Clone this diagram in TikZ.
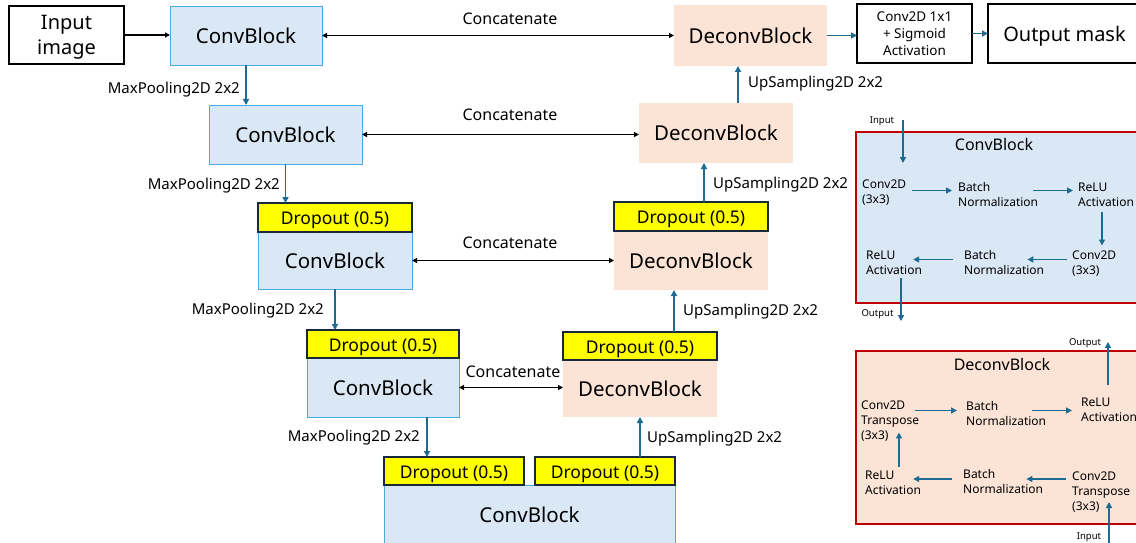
\documentclass[tikz,border=0pt]{standalone}
\usepackage{fontspec}
\setmainfont{Noto Sans}
\usetikzlibrary{arrows.meta}

\definecolor{convfill}{HTML}{DAE8F6}
\definecolor{convedge}{HTML}{4AAADF}
\definecolor{deconvfill}{HTML}{FBE3D6}
\definecolor{flow}{HTML}{1D6A92}
\definecolor{dropfill}{HTML}{FFFF00}
\definecolor{dropedge}{HTML}{17293A}
\definecolor{panelred}{HTML}{C00000}

\newcommand{\blkfont}{\fontsize{20.5}{24.5}\selectfont}

\tikzset{
  box/.style={anchor=north west, inner sep=0pt, outer sep=0pt, align=center},
  convbox/.style={box, draw=convedge, line width=0.9pt, fill=convfill, font=\blkfont},
  deconvbox/.style={box, fill=deconvfill, font=\blkfont},
  dropbox/.style={box, draw=dropedge, line width=1.4pt, fill=dropfill,
    font=\fontsize{17.5}{20}\selectfont, text height=14pt, text depth=0pt},
  plainbox/.style={box, draw=black, line width=1.6pt, fill=white},
  kar/.style={line width=1.2pt, -{Triangle[length=5pt,width=5pt]}},
  kbi/.style={line width=1.2pt, {Triangle[length=5pt,width=5pt]}-{Triangle[length=5pt,width=5pt]}},
  bar/.style={draw=flow, line width=1.6pt, -{Triangle[length=6pt,width=6pt]}},
  lbl/.style={inner sep=0pt, font=\fontsize{15}{18}\selectfont},
  catlbl/.style={inner sep=0pt, font=\fontsize{16}{19}\selectfont},
  ptext/.style={anchor=west, inner sep=0pt, align=left, font=\fontsize{12}{15}\selectfont},
  tinylbl/.style={inner sep=0pt, font=\fontsize{9.5}{11}\selectfont},
  ptitle/.style={inner sep=0pt, font=\fontsize{16}{19}\selectfont},
  panel/.style={draw=panelred, line width=1.8pt}
}

\begin{document}
\begin{tikzpicture}[x=1pt,y=-1pt]
\useasboundingbox (0,0) rectangle (1136,543);
\clip (0,0) rectangle (1136,543);
\fill[white] (0,0) rectangle (1136,543);

% ---------- encoder ----------
\node[plainbox, minimum width=115pt, minimum height=58pt, text depth=0pt, font=\fontsize{20}{24.5}\selectfont] (inimg) at (9,6) {Input\\image};
\node[convbox, minimum width=152pt, minimum height=59pt] (c1) at (170,6) {ConvBlock};
\node[convbox, minimum width=153pt, minimum height=59pt] (c2) at (209,105) {ConvBlock};
\node[convbox, minimum width=154pt, minimum height=57pt] (c3) at (258,232) {ConvBlock};
\node[dropbox, minimum width=154pt, minimum height=29pt] (dr3) at (258,203) {Dropout (0.5)};
\node[convbox, minimum width=152pt, minimum height=59pt] (c4) at (307,358) {ConvBlock};
\node[dropbox, minimum width=152pt, minimum height=28pt] (dr4) at (307,330) {Dropout (0.5)};
\node[convbox, minimum width=291pt, minimum height=60pt] (c5) at (384,485) {ConvBlock};
\node[dropbox, minimum width=140pt, minimum height=28pt] (dr5a) at (384,457) {Dropout (0.5)};
\node[dropbox, minimum width=140pt, minimum height=28pt] (dr5b) at (535,457) {Dropout (0.5)};

% ---------- decoder ----------
\node[deconvbox, minimum width=153pt, minimum height=61pt] (d1) at (674,5) {DeconvBlock};
\node[deconvbox, minimum width=154pt, minimum height=60pt] (d2) at (639,103) {DeconvBlock};
\node[deconvbox, minimum width=154pt, minimum height=59pt] (d3) at (614,231) {DeconvBlock};
\node[dropbox, minimum width=154pt, minimum height=29pt] (dd3) at (614,202) {Dropout (0.5)};
\node[deconvbox, minimum width=154pt, minimum height=57pt] (d4) at (563,360) {DeconvBlock};
\node[dropbox, minimum width=154pt, minimum height=28pt] (dd4) at (563,332) {Dropout (0.5)};

% ---------- output head ----------
\node[plainbox, line width=1.3pt, minimum width=115pt, minimum height=59pt, font=\fontsize{13.5}{17}\selectfont] (cnv) at (857,4) {Conv2D 1x1\\+ Sigmoid\\Activation};
\node[plainbox, minimum width=153pt, minimum height=59pt, text depth=0pt, font=\fontsize{20}{24}\selectfont] (outm) at (988,4) {Output mask};

% ---------- main connectors ----------
\draw[kar] (inimg.east) -- (inimg.east -| c1.west);
\draw[kbi] (c1.east) -- (c1.east -| d1.west);
\draw[kbi] (c2.east) -- (c2.east -| d2.west);
\draw[kbi] (c3.east) -- (c3.east -| d3.west);
\draw[kbi] (c4.east) -- (c4.east -| d4.west);
\draw[bar] (d1.east) -- (d1.east -| cnv.west);
\draw[bar] (cnv.east) -- (cnv.east -| outm.west);

\draw[bar] (c1.south) -- (c1.south |- c2.north);
\draw[bar] (c2.south) -- (c2.south |- dr3.north);
\draw[bar] (c3.south) -- (c3.south |- dr4.north);
\draw[bar] ([xshift=44pt]c4.south) -- ([xshift=44pt]c4.south |- dr5a.north);

\draw[bar] (d4.south |- dr5b.north) -- (d4.south);
\draw[bar] ([xshift=34pt]dd4.north) -- ([xshift=34pt]dd4.north |- d3.south);
\draw[bar] ([xshift=13pt]dd3.north) -- ([xshift=13pt]dd3.north |- d2.south);
\draw[bar] ([xshift=22pt]d2.north) -- ([xshift=22pt]d2.north |- d1.south);

% ---------- connector labels ----------
\node[catlbl] (cat1) at (510,18.5) {Concatenate};
\node[catlbl] (cat2) at (510,114.5) {Concatenate};
\node[catlbl] (cat3) at (510,242.5) {Concatenate};
\node[catlbl] (cat4) at (513,372) {Concatenate};

\node[lbl, anchor=base east] (mp1) at (240,94) {MaxPooling2D 2x2};
\node[lbl, anchor=base east] (mp2) at (280,189) {MaxPooling2D 2x2};
\node[lbl, anchor=base east] (mp3) at (324,314) {MaxPooling2D 2x2};
\node[lbl, anchor=base east] (mp4) at (420,441) {MaxPooling2D 2x2};

\node[lbl, anchor=base west] (up1) at (748,88) {UpSampling2D 2x2};
\node[lbl, anchor=base west] (up2) at (713,188) {UpSampling2D 2x2};
\node[lbl, anchor=base west] (up3) at (683,315) {UpSampling2D 2x2};
\node[lbl, anchor=base west] (up4) at (647,442) {UpSampling2D 2x2};

% ---------- ConvBlock detail ----------
\draw[panel, fill=convfill] (856,132) rectangle (1150,303);
\node[ptitle] (ct) at (994,144) {ConvBlock};
\node[tinylbl] (cin) at (882,121) {Input};
\node[tinylbl] (cout) at (877.5,314) {Output};
\node[ptext] (pa1) at (862,193) {Conv2D\\(3x3)};
\node[ptext] (pb1) at (958,194.5) {Batch\\Normalization};
\node[ptext] (pc1) at (1078,195) {ReLU\\Activation};
\node[ptext] (pc2) at (1072,263.5) {Conv2D\\(3x3)};
\node[ptext] (pb2) at (964,262) {Batch\\Normalization};
\node[ptext] (pa2) at (866,263) {ReLU\\Activation};

\coordinate (r1) at (0,190.5);
\coordinate (r2) at (0,259.5);
\coordinate (k1) at (1102,0);
\coordinate (k0) at (901,0);
\coordinate (cinTop) at (903,120);

\draw[bar] (cinTop) -- ++(0,43);
\draw[bar, shorten <=6pt, shorten >=6pt] (pa1.east |- r1) -- (pb1.west |- r1);
\draw[bar, shorten <=-5pt, shorten >=5pt] (pb1.east |- r1) -- (pc1.west |- r1);
\draw[bar, shorten <=5pt, shorten >=5pt] (pc1.south -| k1) -- (pc2.north -| k1);
\draw[bar, shorten <=5pt, shorten >=-17pt] (pc2.west |- r2) -- (pb2.east |- r2);
\draw[bar, shorten <=11pt, shorten >=-9pt] (pb2.west |- r2) -- (pa2.east |- r2);
\draw[bar, shorten <=3pt] (pa2.south -| k0) -- ++(0,46);

% ---------- DeconvBlock detail ----------
\draw[panel, fill=deconvfill] (856,351) rectangle (1150,524);
\node[ptitle] (dt) at (1002,364) {DeconvBlock};
\node[tinylbl] (qout) at (1085,343) {Output};
\node[tinylbl] (qin) at (1089,537) {Input};
\node[ptext] (qa1) at (861,421) {Conv2D\\Transpose\\(3x3)};
\node[ptext] (qb1) at (966,413.5) {Batch\\Normalization};
\node[ptext] (qc1) at (1081,410) {ReLU\\Activation};
\node[ptext] (qa2) at (865,483) {ReLU\\Activation};
\node[ptext] (qb2) at (963,481.5) {Batch\\Normalization};
\node[ptext] (qc2) at (1072,492) {Conv2D\\Transpose\\(3x3)};

\coordinate (s1) at (0,410.5);
\coordinate (s2) at (0,479);
\coordinate (m0) at (899,0);
\coordinate (m1) at (1108,0);
\coordinate (qinBot) at (1109,545);

\draw[bar, shorten <=-4pt, shorten >=9pt] (qa1.east |- s1) -- (qb1.west |- s1);
\draw[bar, shorten <=-14pt, shorten >=9pt] (qb1.east |- s1) -- (qc1.west |- s1);
\draw[bar, shorten <=13pt] (qc1.north -| m1) -- ++(0,-56);
\draw[bar, shorten <=4pt, shorten >=-9pt] (qa2.north -| m0) -- (qa1.south -| m0);
\draw[bar, shorten <=6pt, shorten >=-17pt] (qc2.west |- s2) -- (qb2.east |- s2);
\draw[bar, shorten <=11pt, shorten >=-8pt] (qb2.west |- s2) -- (qa2.east |- s2);
\draw[bar] (qinBot) -- ++(0,-43);
\end{tikzpicture}
\end{document}
